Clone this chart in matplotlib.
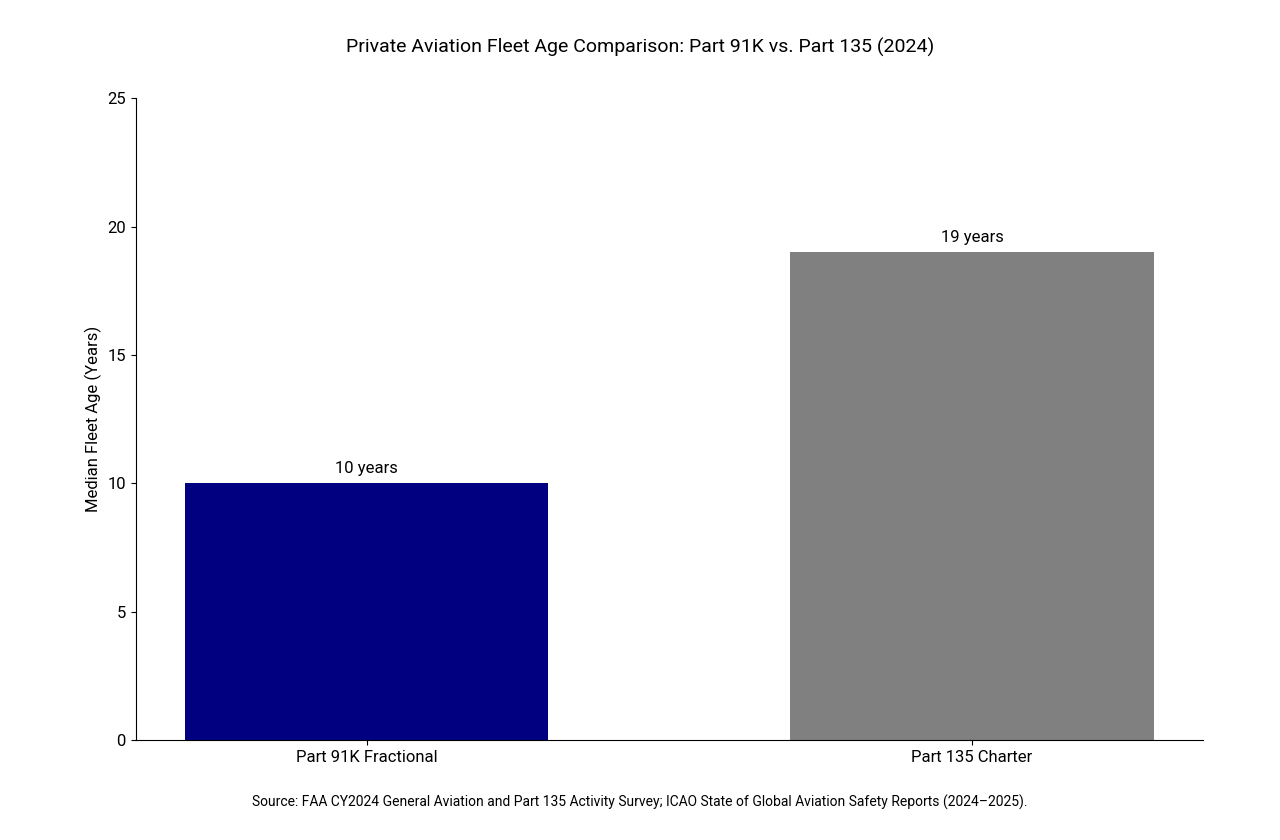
import matplotlib
matplotlib.use("Agg")
import matplotlib.pyplot as plt

categories = ["Part 91K Fractional", "Part 135 Charter"]
median_age = [10, 19]
bar_colors = ["#000080", "#808080"]
labels = ["10 years", "19 years"]

plt.rcParams['font.family'] = ['Roboto', 'DejaVu Sans']

fig = plt.figure(figsize=(12.8, 8.4), dpi=100)
ax = fig.add_axes([0.106, 0.119, 0.834, 0.764])

x = range(len(categories))
bars = ax.bar(x, median_age, width=0.6, color=bar_colors)
for b, lab in zip(bars, labels):
    ax.text(b.get_x() + b.get_width() / 2, b.get_height() + 0.3, lab,
            ha="center", va="bottom", fontsize=12)

ax.set_xticks(list(x))
ax.set_xticklabels(categories, fontsize=12)
ax.set_xlim(-0.382, 1.382)
ax.set_ylim(0, 25)
ax.set_yticks([0, 5, 10, 15, 20, 25])
ax.tick_params(axis="y", labelsize=12)
ax.set_ylabel("Median Fleet Age (Years)", fontsize=12)
ax.spines["top"].set_visible(False)
ax.spines["right"].set_visible(False)

fig.suptitle("Private Aviation Fleet Age Comparison: Part 91K vs. Part 135 (2024)",
             y=0.955, fontsize=14)
fig.text(0.5, 0.04, "Source: FAA CY2024 General Aviation and Part 135 Activity Survey; "
         "ICAO State of Global Aviation Safety Reports (2024\u20132025).",
         ha="center", fontsize=10)

fig.savefig("out.png", dpi=100)
